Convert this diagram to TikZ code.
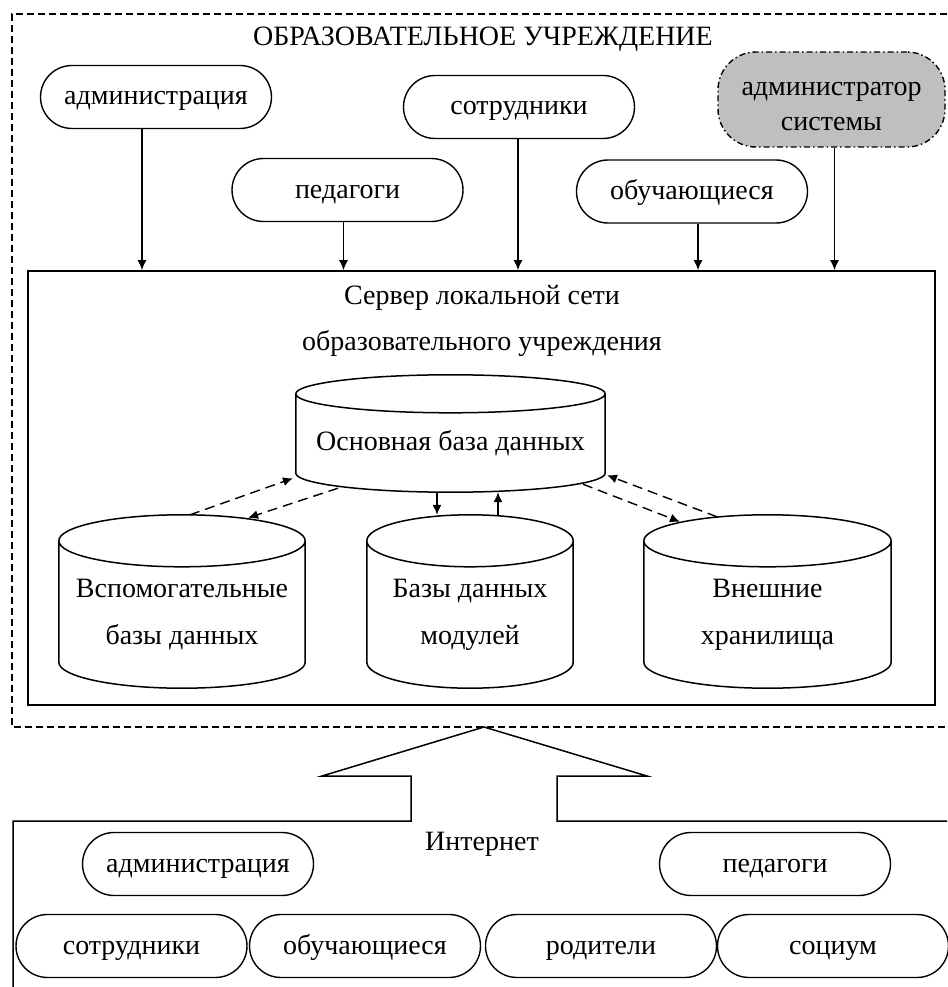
\documentclass[tikz,border=0pt]{standalone}
\usepackage{fontspec}
\setmainfont{Liberation Serif}
\usetikzlibrary{shapes.misc,arrows.meta,calc}

\tikzset{
  txt/.style={text height=22pt, text depth=6pt},
  pill/.style={txt, rounded rectangle, draw, line width=1.4pt, minimum width=231, minimum height=63, inner sep=0pt},
  sysbox/.style={draw, fill=black!25, rounded corners=38pt, line width=1.4pt,
    dash pattern=on 6pt off 3pt on 1.5pt off 3pt, minimum width=227, minimum height=95,
    align=center, text height=69pt, text depth=6pt, font=\fontsize{28}{35}\selectfont},
  db/.style={inner sep=0pt, align=center, font=\fontsize{28}{47}\selectfont},
  link/.style={->, line width=1.4pt},
  dlink/.style={->, line width=1.4pt, dash pattern=on 10pt off 6pt},
}

% cylinder round a node: name, radius of the end ellipses
\newcommand\dbcyl[2]{%
  \draw[line width=1.5pt] let \p1=(#1.north west), \p2=(#1.south east), \n1={(\x2-\x1)/2} in
    (\x1,\y1-#2) -- (\x1,\y2+#2) arc[start angle=180, end angle=360, x radius=\n1, y radius=#2]
    -- (\x2,\y1-#2) arc[start angle=0, end angle=360, x radius=\n1, y radius=#2];
}

\begin{document}
\begin{tikzpicture}[x=1pt, y=-1pt, >={Latex[length=10pt,width=9pt]}, font=\fontsize{28}{34}\selectfont]
  \useasboundingbox (0,0) rectangle (947,987);

  % local network of the school
  \draw[line width=1.3pt, dash pattern=on 7pt off 4pt] (947,14) -- (12,14) -- (12,727) -- (947,727);
  \node[txt] (org) at (483,38) {ОБРАЗОВАТЕЛЬНОЕ УЧРЕЖДЕНИЕ};

  \node[pill] (adm) at (156,97) {администрация};
  \node[pill] (staff) at (519,107) {сотрудники};
  \node[pill] (ped) at (347.5,190) {педагоги};
  \node[pill] (stud) at (692,191.5) {обучающиеся};
  \node[sysbox] (sysadm) at (831.5,99.5) {администратор\\системы};

  \node[draw, line width=1.6pt, minimum width=907, minimum height=434, inner sep=0pt] (srv) at (481.5,488) {};
  \node[align=center, text height=70pt, text depth=6pt, font=\fontsize{28}{46}\selectfont] (srvname) at (482,318) {Сервер локальной сети\\образовательного учреждения};

  \foreach \n/\s in {adm/-14, ped/-4, staff/-1, stud/6, sysadm/3} {
    \path ([xshift=\s pt]\n.south) coordinate (from);
    \draw[link] (from) -- (from |- srv.north);
  }

  % databases
  \node[db, minimum width=309, minimum height=117, text height=39pt, text depth=6pt] (maindb) at (450.5,433.5) {Основная база данных};
  \node[db, minimum width=246, minimum height=173, text height=91pt, text depth=6pt] (auxdb) at (182,601.5) {Вспомогательные\\базы данных};
  \node[db, minimum width=206, minimum height=173, text height=91pt, text depth=6pt] (moddb) at (470,601.5) {Базы данных\\модулей};
  \node[db, minimum width=247, minimum height=173, text height=91pt, text depth=6pt] (extdb) at (767.5,601.5) {Внешние\\хранилища};
  \dbcyl{maindb}{19pt}
  \dbcyl{auxdb}{26pt}
  \dbcyl{moddb}{26pt}
  \dbcyl{extdb}{26pt}

  \draw[dlink] ([shift={(8,0)}]auxdb.north) -- ([shift={(-157.5,-14)}]maindb.south);
  \draw[dlink] ([shift={(-112.5,-4)}]maindb.south) -- ([shift={(66,3)}]auxdb.north);
  \draw[dlink] ([shift={(132.5,-8)}]maindb.south) -- ([shift={(-87.5,7)}]extdb.north);
  \draw[dlink] ([shift={(-50.5,2)}]extdb.north) -- ([shift={(156.5,-17)}]maindb.south);
  \draw[link] ([xshift=-13.5pt]maindb.south) -- ([xshift=-33pt]moddb.north);
  \draw[link] ([xshift=28pt]moddb.north) -- ([xshift=47.5pt]maindb.south);

  % Internet
  \draw[line width=1.5pt] (947,821) -- (557,821) -- (557,776) -- (647,776) -- (484,727)
    -- (322,776) -- (411,776) -- (411,821) -- (13,821) -- (13,987);
  \node[txt] (inet) at (482,842) {Интернет};

  \node[pill] (badm) at (198,864) {администрация};
  \node[pill] (bped) at (775,864) {педагоги};
  \node[pill] (bstaff) at (131.5,946) {сотрудники};
  \node[pill] (bstud) at (365,946) {обучающиеся};
  \node[pill] (bpar) at (601,946) {родители};
  \node[pill] (bsoc) at (833,946) {социум};
\end{tikzpicture}
\end{document}
